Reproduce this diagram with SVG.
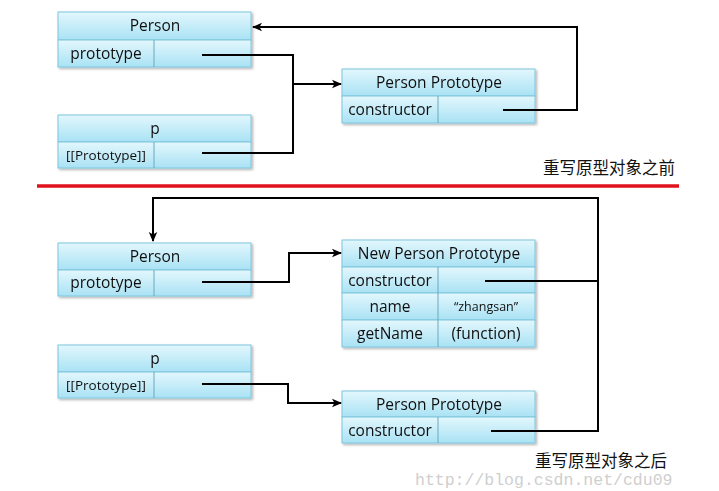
<svg xmlns="http://www.w3.org/2000/svg" width="719" height="491" viewBox="0 0 719 491">
<defs>
<linearGradient id="cell" x1="0" y1="0" x2="0" y2="1">
<stop offset="0" stop-color="#e3f7fd"/>
<stop offset="1" stop-color="#a9e2f4"/>
</linearGradient>
<filter id="sh" x="-5%" y="-10%" width="115%" height="130%">
<feDropShadow dx="1.5" dy="1.5" stdDeviation="1" flood-color="#000" flood-opacity="0.3"/>
</filter>
<marker id="arr" viewBox="0 0 10 10" refX="9" refY="5" markerWidth="10" markerHeight="10" markerUnits="userSpaceOnUse" orient="auto">
<path d="M0,0.8 L10,5 L0,9.2 L2.5,5 Z" fill="#000"/>
</marker>
</defs>
<style>
.c{fill:url(#cell);stroke:#7fc6de;stroke-width:1}
.d{stroke:#6aa9bf;stroke-width:1}
.t{font-family:"Open Sans","Noto Sans",sans-serif;font-size:15.5px;fill:#111;text-anchor:middle}
.s{font-size:13.5px}
.z{font-size:12.5px}
.cn{font-family:"Noto Sans CJK SC",sans-serif;font-size:16.5px;fill:#111}
.l{fill:none;stroke:#000;stroke-width:2}
.a{marker-end:url(#arr)}
</style>
<rect width="719" height="491" fill="#fff"/>

<g id="person1" filter="url(#sh)">
<rect class="c" x="58" y="12" width="193" height="28"/>
<rect class="c" x="58" y="40" width="193" height="27"/>
<line class="d" x1="154" y1="40" x2="154" y2="67"/>
<text class="t" x="155" y="31">Person</text>
<text class="t" x="106" y="59">prototype</text>
</g>
<g id="p1" filter="url(#sh)">
<rect class="c" x="58" y="115" width="193" height="27"/>
<rect class="c" x="58" y="142" width="193" height="26"/>
<line class="d" x1="154" y1="142" x2="154" y2="168"/>
<text class="t" x="155" y="134">p</text>
<text class="t s" x="106" y="160">[[Prototype]]</text>
</g>
<g id="proto1" filter="url(#sh)">
<rect class="c" x="342" y="69" width="193" height="27"/>
<rect class="c" x="342" y="96" width="193" height="27"/>
<line class="d" x1="438" y1="96" x2="438" y2="123"/>
<text class="t" x="439" y="88">Person Prototype</text>
<text class="t" x="390" y="115">constructor</text>
</g>
<text id="label1" class="cn" x="543" y="174">重写原型对象之前</text>

<g id="divider">
<line x1="37" y1="186" x2="679" y2="186" stroke="#e0121c" stroke-width="3.5"/>
</g>

<g id="person2" filter="url(#sh)">
<rect class="c" x="58" y="243" width="193" height="27"/>
<rect class="c" x="58" y="270" width="193" height="26"/>
<line class="d" x1="154" y1="270" x2="154" y2="296"/>
<text class="t" x="155" y="262">Person</text>
<text class="t" x="106" y="288">prototype</text>
</g>
<g id="newproto" filter="url(#sh)">
<rect class="c" x="342" y="240" width="193" height="27"/>
<rect class="c" x="342" y="267" width="193" height="26"/>
<rect class="c" x="342" y="293" width="193" height="27"/>
<rect class="c" x="342" y="320" width="193" height="27"/>
<line class="d" x1="438" y1="267" x2="438" y2="347"/>
<text class="t" x="439" y="259">New Person Prototype</text>
<text class="t" x="390" y="286">constructor</text>
<text class="t" x="390" y="312">name</text>
<text class="t z" x="486" y="311">“zhangsan”</text>
<text class="t" x="390" y="339">getName</text>
<text class="t" x="486" y="339">(function)</text>
</g>
<g id="p2" filter="url(#sh)">
<rect class="c" x="58" y="345" width="193" height="27"/>
<rect class="c" x="58" y="372" width="193" height="26"/>
<line class="d" x1="154" y1="372" x2="154" y2="398"/>
<text class="t" x="155" y="364">p</text>
<text class="t s" x="106" y="390">[[Prototype]]</text>
</g>
<g id="proto2" filter="url(#sh)">
<rect class="c" x="342" y="391" width="193" height="26"/>
<rect class="c" x="342" y="417" width="193" height="26"/>
<line class="d" x1="438" y1="417" x2="438" y2="443"/>
<text class="t" x="439" y="410">Person Prototype</text>
<text class="t" x="390" y="436">constructor</text>
</g>
<text id="label2" class="cn" x="535" y="467">重写原型对象之后</text>
<text id="watermark" x="415" y="485" font-family="Liberation Mono,monospace" font-size="16.5" fill="#cfcfcf">http://blog.csdn.net/cdu09</text>

<g id="connectors">
<path class="l a" d="M202,55 H293 V84 H341"/>
<path class="l" d="M202,153 H293 V84"/>
<path class="l a" d="M503,110 H577 V27 H253"/>
<path class="l a" d="M202,282 H289 V253 H341"/>
<path class="l a" d="M202,384 H288 V403 H341"/>
<path class="l a" d="M491,431 H598 V198 H153 V241"/>
<path class="l" d="M485,281 H598"/>
</g>
</svg>
